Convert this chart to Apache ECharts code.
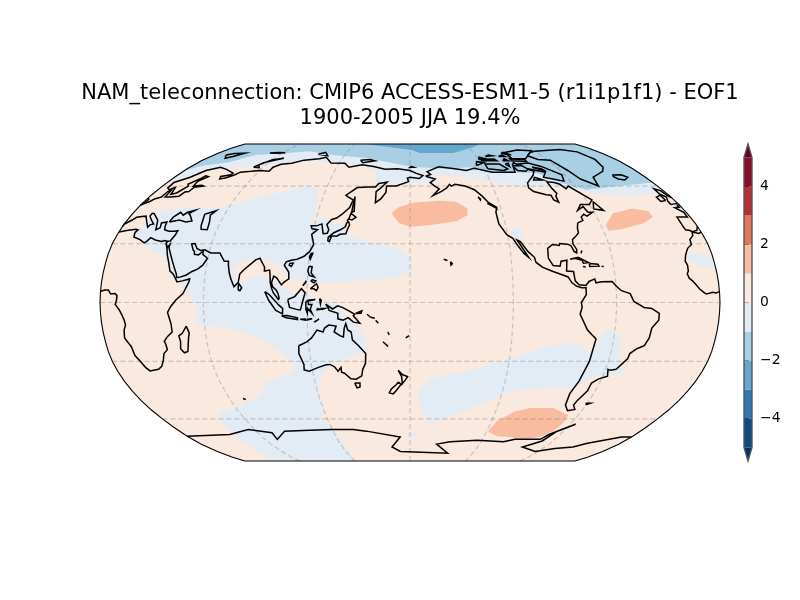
<!DOCTYPE html>
<html>
<head>
<meta charset="UTF-8">
<title>NAM_teleconnection EOF1</title>
<script src="https://cdn.jsdelivr.net/npm/echarts@6/dist/echarts.min.js"></script>
<style>
html,body{margin:0;padding:0;background:#fff}
#main{width:800px;height:600px}
</style>
</head>
<body>
<div id="main"></div>
<script>
// contour patches, [lon, lat], lon runs 0..360 with the map centred on 180
var arcticLight = [[0.01,62],[13,68],[32,70.5],[57,72],[94,75],[115,74],[145,71],[154,67.5],[155,61.5],[180,61.5],[195,62],[202,66],[216,66],[233,64],[255,60],[294,60],[308,56],[333,55],[359.99,56]];
var arcticMedium = [[0.01,69],[8,72],[25,74],[38,79],[60,80],[83,82],[109,79],[142,77],[180,71.5],[207,70],[229,71],[251,68],[280,67.5],[291,62],[306,58],[332,60],[359.99,62]];
var arcticDark = [[131,90],[182,83],[189,80.5],[221,80.5],[246,86],[256,90]];
var indoPacific = [[10,34.5],[16,46],[27,48],[53,48],[74,53.5],[107,60],[114,58],[118,50],[118,40.5],[124,43],[129,41],[139,39.5],[141,34.5],[154,31],[172,28],[181,21.7],[181,15.5],[168,12.5],[145,10.5],[128,10],[120.5,10],[116,12],[109,12.5],[103,19],[96,21.7],[88,22],[80.5,21],[76,16],[80,10],[85,11.3],[93,14],[99.5,10.5],[108,7.3],[114,3.8],[120,5.3],[124,1],[136.5,-1],[147,-10],[152,-15.5],[155,-20.5],[151,-25.7],[135,-30.2],[126,-36],[121,-43],[120,-55],[116,-60],[121,-65],[121,-89.99],[29,-89.99],[39,-70],[39,-64],[45,-56.7],[62,-53.5],[80,-48],[90,-40.5],[108,-35.4],[110,-30.8],[100,-23],[89,-17.5],[73,-13],[54,-11.5],[57,-5.3],[54,1],[50,7.4],[44,10],[34,22.7],[20,29]];
var southPacific = [[185,-45.5],[194,-38.5],[219,-34.4],[242,-27.7],[259,-23],[271,-20.6],[281,-21.6],[289,-26.7],[291,-19],[296,-14],[304,-16.5],[306,-27.7],[312,-36],[305,-37],[294,-38],[285,-43.5],[265,-43.5],[245,-45.5],[220,-55],[202,-61.5],[193,-62.5],[187,-53.5]];
var blobCalifornia = [[241,36],[249,38.5],[250,33],[245,31.5]];
var blobAtlantic = [[345,21.7],[347,25.7],[359.4,23],[359.4,18],[352,18]];
var blobRoss = [[177,-69],[182,-67.5],[187,-68.5],[182,-70.5]];
var peakNPacific = [[168,45.5],[172,48.5],[182,51],[200,52],[211,51.5],[218,48],[217,44.5],[210,41.5],[193,39.5],[180,38.5],[173,40.5]];
var peakNAtlantic = [[303,39.5],[312,45.5],[327,48],[336,46.5],[336,43.5],[328,40.5],[313,37.5],[303,36.5]];
var peakSPacific = [[241,-67],[244,-61],[253.5,-56],[263,-54],[279,-54],[293,-58],[294,-61.5],[292,-67],[285,-70.5],[274,-72],[261,-70.5],[250,-70]];

// coastlines, [lon, lat], west longitudes negative
var coastAfricaEast = [[0,5.7],[2.5,6.3],[4.5,6.3],[6,4.3],[8.5,4.6],[9.7,3.5],[9.5,1],[8.8,-1],[11,-3.8],[12.2,-6],[13.4,-9],[13.8,-11.5],[12.5,-14],[11.8,-18],[14.5,-22.5],[15,-27],[17,-30],[18.3,-33],[20,-34.8],[25.7,-34],[28.5,-32.5],[31,-29.5],[32.8,-26],[35.5,-24],[35.3,-21],[34.8,-19.8],[37,-17.5],[40.5,-15],[40.5,-11],[39.5,-7],[39,-5],[41,-2],[44,1.3],[48,4.5],[51,10.5],[51.2,12],[47,11],[44,10.5],[43,12],[41,14.7],[39,16],[37.2,20.5],[35.5,24],[34,27.5],[32.6,29.9],[32.3,31.2],[31,31.5],[29,31],[25,31.8],[21.5,33],[20,31],[19,30.3],[15.5,32],[11,33.3],[10.2,35.5],[11,37],[9.5,37.3],[5,36.8],[0,35.9]];
var coastAfricaWest = [[-0.01,35.8],[-2,35.1],[-5.5,35.9],[-6.5,34],[-9.5,32],[-10,29.5],[-13,27.7],[-14.5,26],[-16,23.7],[-17,21],[-16.2,19],[-16.5,16],[-17.5,14.7],[-16.7,12.3],[-15,11],[-13.3,9.2],[-11.5,7],[-9,5],[-7.5,4.3],[-4,5.2],[-2,4.8],[-0.01,5.7]];
var coastEurasiaMain = [[32.6,29.9],[34,28],[35,29.5],[35,28],[37,25],[39,21.5],[41,18],[43,14.5],[43.5,12.7],[45,12.8],[49,14],[52,15.8],[55,17],[57.7,19],[59.7,22.5],[56.5,24.5],[56.3,26.2],[54,24.2],[51.5,24.5],[51,26],[50,26.7],[48,29.8],[50,30],[52,27.5],[54.5,26.5],[57,26.8],[61,25.2],[66.5,25.2],[67.5,24],[70,21],[72.5,21],[72.8,19],[74,15],[75.5,11.5],[77.5,8],[79.8,10.3],[80.2,14.5],[82.3,16.7],[86.5,20],[88.5,21.7],[91,22.5],[92,21],[94.3,18],[94.5,16],[97.5,16.5],[98,14],[98.5,10],[99.5,7],[100.5,5],[103.5,1.5],[104,2],[103.3,4.5],[102.2,6.2],[100,8],[99.2,10],[100.2,13.4],[102,12.5],[105,9],[106.7,10.5],[109.2,12],[108.8,15.5],[105.8,19],[106.8,20.7],[109.5,21.5],[113,22],[117,23.5],[120,26],[121.8,29.5],[121,31.5],[119.5,34.7],[122.5,37],[119,37.5],[118,39],[121.5,39],[124.5,40],[125.3,38],[126.5,35],[129,35.2],[129.5,37],[127.7,39.7],[130,42.3],[133,43],[136,45],[140,48.5],[141.3,52.5],[137.5,54],[135.5,55],[142,59.2],[150,59.5],[155,59.5],[157,61.5],[163,62.2],[159,59],[156,57],[156.7,51],[160,53],[163,56.5],[163,60],[170,60],[179,62.5],[178,64.5],[180,65],[-173,64.3],[-170,66],[-175,67.3],[180,69],[170,70],[160,69.7],[150,71.5],[140,72.5],[130,71],[125,73.5],[113,73.7],[105,77.5],[100,76.5],[88,75.5],[80,73.5],[72,72.8],[68,71],[68,68.5],[60,69],[54,68.5],[46,68],[44,66.5],[40,64.7],[36,64],[34.5,65.5],[41,66.5],[41,67.5],[33,69.5],[25,71],[17,69],[12,65],[5,62],[5.5,59],[8,58],[10.5,59.3],[11.5,58],[13,55.5],[16,56.2],[18.8,60],[17,61],[21.5,64.5],[22.5,65.8],[25.5,65.3],[21.5,62.7],[22.5,60],[28,60.5],[30,60],[24,59.3],[23.5,57],[21,56.8],[20,54.5],[14.5,54],[11,54],[10,57.5],[8.5,57],[8.5,54],[5,53],[3.5,51.5],[1.5,50.5],[0,49.6]];
var coastEuropeWest = [[-0.01,49.5],[-1.5,49.7],[-1.5,48.7],[-4.7,48.4],[-1.5,46],[-1.8,43.5],[-8.5,43.5],[-9,39],[-8.8,37],[-6.3,36.6],[-5.5,36],[-2,36.7],[-0.01,38.7]];
var coastMediterranean = [[0,38.7],[0,39.8],[3,42],[4.5,43.4],[7.5,43.8],[10,44],[13,41.2],[16,38.3],[16.5,39.5],[18.5,40],[16,41.5],[12.5,44],[12.5,45.5],[14,45.3],[19.5,41.8],[22,37],[24,38],[23,40.5],[26,41],[26.5,39],[27.5,37],[30.5,36.3],[34,36.3],[36,36.5],[35.8,34.5],[34.3,31.3],[32.5,31.1],[32.6,29.9]];
var coastBlackSea = [[27.5,41],[29,41.2],[33,42],[38,41],[41.5,41.5],[38,44.5],[36.5,45.3],[39,47],[35,46],[33.5,44.5],[30.5,46],[28,43.5],[27.5,41]];
var coastCaspian = [[47,45],[53,46.8],[51,44.5],[53,41],[54,37],[50,37.3],[49,39],[47,45]];
var coastAmericas = [[-168,65.6],[-164,66.6],[-166.5,68.3],[-156.5,71.3],[-141,69.7],[-135,69],[-128,70.3],[-115,68],[-108,68],[-97,68],[-95,71.5],[-94,69],[-88,68.5],[-85,69.7],[-81.5,68.5],[-85,66],[-87,65],[-93,61.8],[-94.5,59],[-92.5,57],[-85,55.3],[-82,55],[-82,52.5],[-79.5,51.3],[-79,54.5],[-77,56],[-78,59],[-78,62.4],[-73,62],[-70,61],[-68,58.5],[-65,60],[-61,56.5],[-56,52.5],[-60,50],[-66,50],[-70,47],[-65,49],[-64,46],[-61,46],[-66,44],[-67.5,45],[-70,43.5],[-70,41.8],[-74,40.5],[-75.5,38],[-76,35.5],[-78,34],[-81,32],[-81.5,30],[-80,27],[-80.5,25.2],[-81.8,26],[-83,29],[-85,29.7],[-89.5,30],[-90,29],[-94,29.5],[-97.3,27.5],[-97.8,22.5],[-95.5,18.8],[-91.5,18.5],[-90.5,21],[-87,21.5],[-88,16],[-84,15.8],[-83.5,11],[-81.5,9],[-77.5,8.7],[-75.5,10.7],[-72,12],[-71.5,10],[-68,10.5],[-62,10.7],[-60,8.5],[-57,6],[-52,4.5],[-50,0.5],[-44,-2.5],[-39.5,-3],[-35,-5.5],[-35,-9],[-38.5,-13],[-39,-18],[-41,-22],[-45,-23.5],[-48.5,-26],[-48.8,-28.5],[-53.5,-34],[-57,-34.5],[-58.5,-34],[-57,-37.5],[-62,-39],[-65,-41],[-65,-45],[-68,-50],[-68.5,-52.5],[-65.5,-54.8],[-70,-55.5],[-74,-52.5],[-75.5,-46.5],[-73.5,-40],[-71.5,-30],[-70.3,-18.5],[-76,-14],[-81,-6],[-80,-2.5],[-80.5,0],[-77.5,4],[-77.5,7.5],[-80,7.5],[-83,8.3],[-85.5,10],[-87.5,13],[-92,14.5],[-96,15.8],[-102,18],[-105.5,20.5],[-106,23],[-109.5,26],[-113,31],[-114.8,31.8],[-112,27],[-109.5,23],[-112,25],[-115,29],[-117.2,32.7],[-120.5,34.5],[-124,40],[-124,46],[-122.5,48.5],[-127,51],[-130,54.5],[-134,58],[-140,60],[-147,61],[-150,60],[-151,61],[-153.5,59],[-158,57],[-164,54.8],[-159,58.5],[-162,60],[-165,62],[-161,64],[-168,65.6]];
var coastAntarctica = [[0.01,-70],[36,-69],[55,-66],[71,-68],[70,-72],[82,-67],[102,-66.5],[120,-66],[136,-66],[146,-67],[172,-70.5],[164,-77],[171,-80],[216,-81.5],[203,-75],[214,-73.5],[236,-72.5],[259,-73.5],[267,-72],[288,-72],[291,-69],[304,-63],[295,-67],[291,-73],[280,-77],[297,-80],[311,-78],[325,-77],[332,-74.5],[352,-70.5],[359.99,-70.5]];
var coastIslands = [
  [[49.2,-12],[50.4,-15.5],[49.5,-18],[47.5,-24.9],[45.2,-25.6],[43.5,-23.5],[44.4,-19.9],[44,-17],[46.3,-15.7],[49.2,-12]],
  [[-5.5,50],[-0.01,50.8]], [[0.01,50.8],[1.3,51.2],[1.5,52.8],[0.01,53.6]], [[-0.01,53.6],[-1.5,55],[-2,57.5],[-5,58.5],[-5.5,55.5],[-3,54],[-5,52],[-5.5,50]],
  [[-6,52.2],[-6,55],[-10,54],[-10,51.7],[-6,52.2]],
  [[-24,65.5],[-22.5,66.4],[-16,66.5],[-13.6,65],[-18.5,63.4],[-22.5,64],[-24,65.5]],
  [[11,79],[16,80],[25,80.3],[20,78],[16,76.8],[11,79]],
  [[48,80.5],[55,81],[62,80.8],[55,80.2],[48,80.5]],
  [[52,71],[56,74],[68,76.8],[60,75.8],[54,72.5],[57,70.7],[52,71]],
  [[95,79.5],[105,78.5],[100,81],[95,79.5]],
  [[137,75.5],[145,76],[150,75],[140,73.8],[137,75.5]],
  [[-179,71.5],[-177,71],[180,70.9],[-179,71.5]],
  [[142,54.3],[143,49.5],[143.5,46.5],[142,46],[142,50],[142,54.3]],
  [[141,41.3],[142,39.5],[141,37],[140.5,35],[137,34.7],[135,33.7],[131,34],[133,35.5],[136.7,37],[139.5,38.5],[140,40.5],[141,41.3]],
  [[130,33.5],[131.8,33.5],[131,31],[130,31.5],[130,33.5]],
  [[140,41.5],[141,43],[141.7,45.4],[145.3,43.5],[143,42],[141,42.5],[140,41.5]],
  [[121,25],[122,25],[120.8,22],[120.2,23],[121,25]],
  [[109,20],[111,20],[110,18.3],[108.7,19],[109,20]],
  [[120.5,18.5],[122.3,18.3],[122,15],[124,13],[121,13.8],[120,16],[120.5,18.5]],
  [[122,7],[125.5,9.6],[126.5,7.5],[125.5,6],[124,7],[122,7]],
  [[122,11],[123,11.5],[125,11],[124,10],[122,11]],
  [[117.5,8.5],[119.5,11],[119,10],[117.5,8.5]],
  [[109,1.5],[113,3],[116.8,7],[119,5],[117.8,1],[116.3,-3.8],[114,-3.5],[110,-2.5],[109,1.5]],
  [[95.5,5.5],[98,4.2],[104,-1.5],[106,-3],[105.8,-5.8],[102,-4],[98,1],[95.5,5.5]],
  [[105.2,-6.8],[108.5,-6.6],[114.5,-7.8],[114.5,-8.7],[108,-7.8],[105.2,-6.8]],
  [[116,-8.5],[119,-8.4],[119,-9],[116,-8.5]], [[120,-8.5],[123,-8.3],[120,-8.9],[120,-8.5]], [[124,-10],[127,-8.5],[124.5,-9.8],[124,-10]],
  [[119.5,0.5],[125,1.5],[120.8,1.2],[121,-1],[123,-1],[122,-3.5],[123,-5.5],[120.5,-3],[120.3,-5.5],[119.5,-3.5],[119.5,0.5]],
  [[127.5,2],[128.5,1],[128,-0.8],[127.5,2]], [[126,-3],[128,-3.5],[126,-3.8],[126,-3]], [[128,-3],[130.5,-3],[129,-3.5],[128,-3]],
  [[131,-0.8],[135,-3.3],[138,-1.7],[141,-2.6],[145,-4.5],[147.8,-6],[147,-6.8],[150.7,-10.5],[147,-10],[144,-7.7],[141,-9],[138,-8.3],[138,-5.5],[133,-4],[132.5,-2.8],[131,-0.8]],
  [[148.3,-5.6],[152,-4.2],[151.5,-5.5],[148.3,-5.6]],
  [[155,-6],[157,-7.5]], [[157,-7.5],[159.5,-8]], [[160,-9],[161.5,-10.5]],
  [[167,-15],[167.8,-16.5]], [[177.5,-18],[179.5,-16.8]], [[164,-20],[167,-22.3]],
  [[114,-22],[113.5,-26],[115.5,-31.5],[115,-34.3],[118,-35],[124,-33],[129,-31.7],[131.5,-31.5],[134,-32.8],[135.7,-35],[137.8,-33],[137.8,-35.5],[139.5,-36],[143,-38.8],[146.3,-39],[150,-37.3],[151,-34],[153,-31],[153.5,-26],[149.5,-22],[146,-19],[145.5,-15],[143.5,-14],[142.5,-10.8],[141.5,-13],[140.8,-17.5],[139,-17],[135.5,-15],[136.8,-12],[132.5,-11.5],[130,-13],[129,-15],[125.5,-14],[122,-18],[119,-20],[114,-22]],
  [[145,-41],[148.3,-41],[148,-43],[146,-43.5],[145,-41]],
  [[172.7,-40.5],[174.3,-41.7],[171,-45],[169,-46.6],[166.5,-46],[168,-44],[171,-42],[172.7,-40.5]],
  [[172.7,-34.5],[175.5,-36.8],[178.5,-37.7],[177,-39.5],[175,-41.5],[175,-39.5],[174.7,-37.5],[172.7,-34.5]],
  [[80,9.8],[82,7.5],[81,6],[80,6.5],[80,9.8]],
  [[-156,20.8],[-155,19.7],[-155.8,19],[-156,20.8]], [[-160,22],[-157.8,21.4]],
  [[69,-49],[70.5,-49.5]],
  [[-85,22],[-80,23],[-74.5,20.3],[-77.5,20],[-78,21.5],[-82,22.5],[-85,22]],
  [[-74,19.8],[-69,19.5],[-68.5,18.5],[-74,18.3],[-74,19.8]],
  [[-78,18.3],[-76.5,18.1]], [[-67,18.4],[-65.8,18.3]], [[-78,25],[-77,26.5]],
  [[-59,47.7],[-56,51.5],[-53,47],[-59,47.7]],
  [[-128,50.7],[-124,49],[-123.5,48.4],[-128,50.7]],
  [[-133,54],[-131.7,53],[-132,52.5],[-133,54]],
  [[-61,-51.5],[-58,-51.5],[-60,-52.2],[-61,-51.5]],
  [[-73,78.5],[-66,81],[-60,82],[-32,83.5],[-20,81.5],[-18,76],[-22,71],[-27,68.5],[-40,65],[-43,60],[-51,64],[-54,69],[-58,75.5],[-68,76],[-73,78.5]],
  [[-80,73.7],[-72,71.5],[-62,66.5],[-65,62.8],[-72,64],[-78,65],[-73,68],[-85,70],[-89,73],[-80,73.7]],
  [[-117,70],[-105,69],[-101,70],[-105,73],[-117,73],[-117,70]],
  [[-125,72],[-117,74],[-123,74.5],[-125,72]],
  [[-90,76.5],[-78,76.5],[-62,82.5],[-75,83],[-90,81],[-90,76.5]],
  [[-92,75],[-80,74.5],[-80,75.8],[-92,76.5],[-92,75]],
  [[-118,75],[-105,75],[-106,76.3],[-118,76],[-118,75]],
  [[-95,72],[-92,74],[-90,72],[-95,72]],
  [[-85,65],[-80,63.5],[-87,63.5],[-85,65]],
  [[-95,80],[-87,79],[-92,81],[-95,80]],
  [[-120,76],[-114,76.5],[-118,77.5],[-120,76]],
  [[-100,75],[-95,75],[-97,76.5],[-100,75]],
  [[-100,73],[-97,73.5],[-98,71.5],[-100,73]],
  [[-112,78],[-105,78.5],[-108,79],[-112,78]],
  [[-100,78],[-94,78],[-96,79],[-100,78]],
  [[-80,71],[-72,68.5],[-74,70],[-80,71]]
];

// grid lines and colour bar
var meridianTicks = [60, 120, 180, 240, 300];
var parallelTicks = [-60, -30, 0, 30, 60];
var cbarTicks = [-4, -2, 0, 2, 4];
var cbarLow = [-5, -4, -3, -2, -1, 0, 1, 2, 3, 4];
var cbarHigh = [-4, -3, -2, -1, 0, 1, 2, 3, 4, 5];
var cbarColors = ['#0f4a85', '#2d78b6', '#64a7cf', '#a8cfe3', '#e3ecf4', '#fae9df', '#f9bca0', '#e2775a', '#bb2e35', '#8a0c28'];
var cbarOverColor = '#67001f';
var cbarUnderColor = '#053061';
var cbarEnd = 5.466;

// Robinson table, every 5 degrees of latitude
var robX = [1, .9986, .9954, .99, .9822, .973, .96, .9427, .9216, .8962, .8679, .835, .7986, .7597, .7186, .6732, .6213, .5722, .5322];
var robY = [0, .062, .124, .186, .248, .31, .372, .434, .4958, .5571, .6176, .6769, .7346, .7903, .8435, .8936, .9394, .9761, 1];

function tableAt(tab, lat) {
  var a = Math.min(Math.abs(lat), 90) / 5;
  var i = Math.min(Math.floor(a), 17);
  return tab[i] + (tab[i + 1] - tab[i]) * (a - i);
}
var robinson = {
  project: function (p) {
    var lon = p[0] < 0 ? p[0] + 360 : p[0];
    var y = tableAt(robY, p[1]) * (p[1] < 0 ? -1 : 1);
    return [tableAt(robX, p[1]) * (lon - 180) / 180 * 310, -y * 158.5];
  },
  unproject: function (p) {
    return [180 + p[0] / 310 * 180, -p[1] / 158.5 * 90];
  }
};

// points along a meridian, the seam edges need these to follow the curve
function meridian(lon, from, to) {
  var out = [], step = from < to ? 5 : -5;
  for (var lat = from; step > 0 ? lat < to : lat > to; lat += step) out.push([lon, lat]);
  out.push([lon, to]);
  return out;
}
function polarCap(lower) {
  var last = lower[lower.length - 1];
  return lower.concat(meridian(last[0], last[1], 90), meridian(lower[0][0], 90, lower[0][1]));
}
var wholeGlobe = meridian(0.01, -90, 90).concat(meridian(359.99, 90, -90));

var patches = [
  { name: 'globe', ring: wholeGlobe, color: cbarColors[5] },
  { name: 'arcticLight', ring: polarCap(arcticLight), color: cbarColors[4] },
  { name: 'arcticMedium', ring: polarCap(arcticMedium), color: cbarColors[3] },
  { name: 'arcticDark', ring: arcticDark, color: cbarColors[2] },
  { name: 'indoPacific', ring: indoPacific, color: cbarColors[4] },
  { name: 'southPacific', ring: southPacific, color: cbarColors[4] },
  { name: 'blobCalifornia', ring: blobCalifornia, color: cbarColors[4] },
  { name: 'blobAtlantic', ring: blobAtlantic, color: cbarColors[4] },
  { name: 'blobRoss', ring: blobRoss, color: cbarColors[4] },
  { name: 'peakNPacific', ring: peakNPacific, color: cbarColors[6] },
  { name: 'peakNAtlantic', ring: peakNAtlantic, color: cbarColors[6] },
  { name: 'peakSPacific', ring: peakSPacific, color: cbarColors[6] }
];

echarts.registerMap('eof', {
  type: 'FeatureCollection',
  features: patches.map(function (p) {
    return {
      type: 'Feature',
      properties: { name: p.name },
      geometry: { type: 'Polygon', coordinates: [p.ring.concat([p.ring[0]])] }
    };
  })
});

var coasts = [coastAfricaEast, coastAfricaWest, coastEurasiaMain, coastEuropeWest, coastMediterranean, coastBlackSea, coastCaspian, coastAmericas, coastAntarctica].concat(coastIslands);
var gridLines = meridianTicks.map(function (lon) { return meridian(lon, -90, 90); })
  .concat(parallelTicks.map(function (lat) { return [[0.01, lat], [359.99, lat]]; }));
var boundary = wholeGlobe.concat([wholeGlobe[0]]);

function asLines(list) {
  return list.map(function (c) { return { coords: c }; });
}

var fontName = 'DejaVu Sans';
var chart = echarts.init(document.getElementById('main'), null, { renderer: 'canvas' });
chart.setOption({
  animation: false,
  backgroundColor: '#fff',
  title: {
    text: 'NAM_teleconnection: CMIP6 ACCESS-ESM1-5 (r1i1p1f1) - EOF1\n1900-2005 JJA 19.4%',
    left: 405, top: 76, textAlign: 'center',
    textStyle: { fontFamily: fontName, fontSize: 21, fontWeight: 'normal', color: '#000', lineHeight: 25 }
  },
  geo: {
    map: 'eof',
    projection: robinson,
    left: 100, top: 144, width: 620, height: 317,
    roam: false, silent: true,
    label: { show: false },
    itemStyle: { borderWidth: 0, areaColor: cbarColors[5] },
    emphasis: { disabled: true },
    regions: patches.map(function (p) {
      return { name: p.name, silent: true, itemStyle: { areaColor: p.color, borderWidth: 0 } };
    })
  },
  grid: { left: 744, top: 144, width: 8, height: 317 },
  xAxis: { type: 'value', min: 0, max: 1, show: false },
  yAxis: {
    type: 'value', position: 'right', min: -cbarEnd, max: cbarEnd,
    axisLine: { show: false },
    splitLine: { show: false },
    axisTick: { show: true, length: 5, customValues: cbarTicks, lineStyle: { color: '#000', width: 1 } },
    axisLabel: {
      customValues: cbarTicks, margin: 8, color: '#000', fontFamily: fontName, fontSize: 13.9,
      formatter: function (v) { return String(v).replace('-', '\u2212'); }
    }
  },
  series: [
    {
      type: 'lines', coordinateSystem: 'geo', polyline: true, silent: true, z: 3,
      lineStyle: { color: 'rgba(128,128,128,0.38)', width: 1.2, type: [5, 3], opacity: 1 },
      data: asLines(gridLines)
    },
    {
      type: 'lines', coordinateSystem: 'geo', polyline: true, silent: true, z: 4,
      lineStyle: { color: '#000', width: 1.5, opacity: 1 },
      data: asLines(coasts)
    },
    {
      type: 'lines', coordinateSystem: 'geo', polyline: true, silent: true, z: 5,
      lineStyle: { color: '#000', width: 1.1, opacity: 1 },
      data: asLines([boundary])
    },
    {
      type: 'custom', coordinateSystem: 'cartesian2d', silent: true, clip: false, z: 6,
      data: cbarLow.map(function (v, i) { return [v, cbarHigh[i], i]; }),
      renderItem: function (params, api) {
        var a = api.coord([0, api.value(0)]), b = api.coord([1, api.value(1)]);
        return { type: 'rect', shape: { x: a[0], y: b[1], width: b[0] - a[0], height: a[1] - b[1] },
          style: { fill: cbarColors[api.value(2)], stroke: null } };
      }
    },
    {
      type: 'custom', coordinateSystem: 'cartesian2d', silent: true, clip: false, z: 6,
      data: [[5, cbarEnd, cbarOverColor], [-5, -cbarEnd, cbarUnderColor]],
      renderItem: function (params, api) {
        var base = api.value(0), tip = api.value(1);
        return { type: 'polygon',
          shape: { points: [api.coord([0, base]), api.coord([1, base]), api.coord([0.5, tip])] },
          style: { fill: api.value(2), stroke: null } };
      }
    },
    {
      type: 'custom', coordinateSystem: 'cartesian2d', silent: true, clip: false, z: 7,
      data: [[5, cbarEnd]],
      renderItem: function (params, api) {
        var base = api.value(0), tip = api.value(1);
        return { type: 'polygon',
          shape: { points: [api.coord([0, base]), api.coord([0.5, tip]), api.coord([1, base]), api.coord([1, -base]), api.coord([0.5, -tip]), api.coord([0, -base])] },
          style: { fill: 'none', stroke: '#555', lineWidth: 1.4 } };
      }
    }
  ]
});
</script>
</body>
</html>
